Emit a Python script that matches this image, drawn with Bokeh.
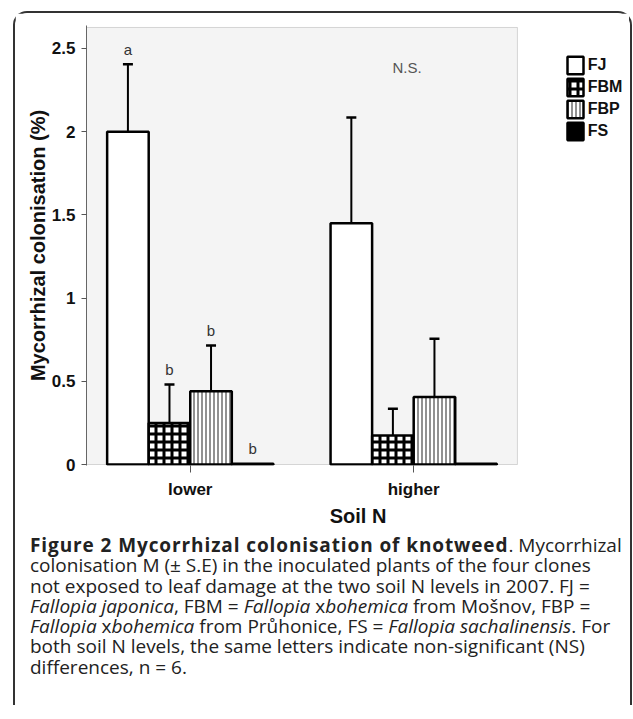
from bokeh.plotting import figure
from bokeh.models import (Range1d, FixedTicker, Legend, LegendItem, Whisker, TeeHead,
                          ColumnDataSource, Div, BoxAnnotation)
from bokeh.layouts import column
from bokeh.embed import file_html
from bokeh.resources import INLINE
from bokeh.core.properties import value

# ---------------- data ----------------
groups = ["lower", "higher"]
clones = ["FJ", "FBM", "FBP", "FS"]
fj_mean = [2.00, 1.45]
fbm_mean = [0.25, 0.175]
fbp_mean = [0.44, 0.405]
fs_mean = [0.005, 0.005]
fj_se = [0.405, 0.635]
fbm_se = [0.23, 0.16]
fbp_se = [0.275, 0.35]
fs_se = [0.0, 0.0]
lower_letters = ["a", "b", "b", "b"]
higher_note = "N.S."
y_ticks = [0, 0.5, 1, 1.5, 2, 2.5]
y_tick_labels = ["0", "0.5", "1", "1.5", "2", "2.5"]

means = [fj_mean, fbm_mean, fbp_mean, fs_mean]
ses = [fj_se, fbm_se, fbp_se, fs_se]

# ---------------- figure ----------------
FONT = "Liberation Sans"
bar_w = 0.186
centers = [i + 0.5 for i in range(len(groups))]
offsets = [(k - 1.5) * bar_w for k in range(len(clones))]
x_lo, x_hi = 0.0356, 1.9644        # extent of the grey plotting panel
y_top = 2.626

p = figure(frame_width=543, frame_height=440,
           x_range=Range1d(x_lo, 2.466), y_range=Range1d(-0.006, 2.638),
           output_backend="svg", toolbar_location=None,
           min_border_left=71, min_border_right=0,
           min_border_top=12, min_border_bottom=63)
p.background_fill_color = "white"
p.border_fill_color = "white"
p.outline_line_color = None
p.xgrid.visible = False
p.ygrid.visible = False

panel = BoxAnnotation(left=x_lo, right=x_hi, bottom=0, top=y_top,
                      fill_color="#f4f4f4", fill_alpha=1,
                      line_color="#808080", line_width=1, level="underlay")
p.add_layout(panel)

styles = [
    dict(fill_color="white"),
    dict(fill_color="white", hatch_pattern="cross", hatch_scale=8,
         hatch_weight=3, hatch_color="black"),
    dict(fill_color="white", hatch_pattern="vertical_line", hatch_scale=4,
         hatch_weight=1.3, hatch_color="#555555"),
    dict(fill_color="black"),
]

renderers = []
sources = []
for k, c in enumerate(clones):
    xs = [cx + offsets[k] for cx in centers]
    src = ColumnDataSource(dict(
        x=xs, top=means[k],
        upper=[m + s for m, s in zip(means[k], ses[k])],
        lower=[m - s for m, s in zip(means[k], ses[k])],
    ))
    sources.append(src)
    r = p.vbar(x="x", top="top", bottom=0, width=bar_w, source=src,
               line_color="black", line_width=2.5, **styles[k])
    renderers.append(r)

for k, src in enumerate(sources):
    if max(ses[k]) == 0:
        continue
    w = Whisker(source=src, base="x", upper="upper", lower="lower",
                line_color="black", line_width=2,
                upper_head=TeeHead(size=10, line_width=2.5, line_color="black"),
                lower_head=TeeHead(size=10, line_width=2.5, line_color="black"))
    p.add_layout(w)

# significance letters (lower soil N)
letter_x = [centers[0] + o for o in offsets]
letter_y = [m[0] + s[0] for m, s in zip(means, ses)]
p.text(x=letter_x, y=letter_y, text=lower_letters, y_offset=-15,
       text_font=value(FONT), text_font_size="15px", text_align="center",
       text_baseline="alphabetic", text_color="#333333")
ns_y = max(m[1] + s[1] for m, s in zip(means, ses)) + 0.3
p.text(x=[centers[1] - 0.03], y=[ns_y], text=[higher_note],
       text_font=value(FONT), text_font_size="15px", text_align="center",
       text_baseline="middle", text_color="#555555")

# axes
p.yaxis.ticker = FixedTicker(ticks=y_ticks)
p.yaxis.major_label_overrides = dict(zip(y_ticks, y_tick_labels))
p.yaxis.minor_tick_line_color = None
p.yaxis.major_tick_in = 0
p.yaxis.major_tick_out = 5
p.yaxis.major_tick_line_color = "#555555"
p.yaxis.axis_line_color = "#666666"
p.yaxis.major_label_standoff = 6
p.yaxis.axis_label = "Mycorrhizal colonisation (%)"
p.yaxis.axis_label_standoff = 0

p.xaxis.ticker = FixedTicker(ticks=centers)
p.xaxis.major_label_overrides = dict(zip(centers, groups))
p.xaxis.minor_tick_line_color = None
p.xaxis.major_tick_in = 0
p.xaxis.major_tick_out = 7
p.xaxis.major_tick_line_color = "#555555"
p.xaxis.axis_line_color = None
p.xaxis.major_label_standoff = 7
p.xaxis.axis_label = "Soil N"
p.xaxis.axis_label_standoff = 3

for ax in (p.xaxis, p.yaxis):
    ax.major_label_text_font = FONT
    ax.major_label_text_font_style = "bold"
    ax.major_label_text_font_size = "17px"
    ax.major_label_text_color = "#111111"
    ax.axis_label_text_font = FONT
    ax.axis_label_text_font_style = "bold"
    ax.axis_label_text_font_size = "20px"
    ax.axis_label_text_color = "#111111"

legend = Legend(items=[LegendItem(label=c, renderers=[r]) for c, r in zip(clones, renderers)],
                location=(478.7, 323), glyph_width=20, glyph_height=22, label_height=22,
                label_standoff=3, spacing=0, padding=0, margin=0,
                border_line_alpha=0, background_fill_alpha=0,
                label_text_font=FONT, label_text_font_style="bold",
                label_text_font_size="16px", label_text_color="#111111")
p.add_layout(legend)

caption_html = (
    '<div style="font-family: \'Open Sans\'; font-size: 19px; line-height: 20.3px; '
    'white-space: nowrap; color: #222222;">'
    '<b style="letter-spacing: 0.9px;">Figure 2 Mycorrhizal colonisation of knotweed</b>. Mycorrhizal<br>'
    "colonisation M (&plusmn; S.E) in the inoculated plants of the four clones<br>"
    "not exposed to leaf damage at the two soil N levels in 2007. FJ =<br>"
    "<i>Fallopia japonica</i>, FBM = <i>Fallopia</i> x<i>bohemica</i> from Mošnov, FBP =<br>"
    "<i>Fallopia</i> x<i>bohemica</i> from Průhonice, FS = <i>Fallopia sachalinensis</i>. For<br>"
    "both soil N levels, the same letters indicate non-significant (NS)<br>"
    "differences, n = 6."
    "</div>"
)
cap = Div(text=caption_html, width=600, height=170, margin=(6, 0, 0, 15))

box = column(p, cap,
             styles={"border": "2px solid #333333", "border-bottom": "none",
                     "border-radius": "14px 14px 0 0", "margin": "11px 0 0 13px"})

open("out.html", "w").write(file_html(box, INLINE))
